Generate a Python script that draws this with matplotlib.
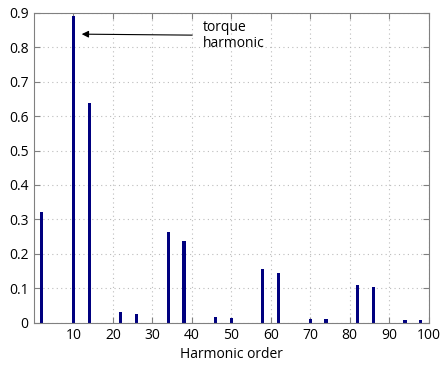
import matplotlib
matplotlib.use("Agg")
import matplotlib.pyplot as plt

# harmonic orders and amplitudes
orders = [2, 10, 14, 22, 26, 34, 38, 46, 50, 58, 62, 70, 74, 82, 86, 94, 98]
amps = [0.32, 0.892, 0.638, 0.030, 0.026, 0.262, 0.236, 0.016, 0.014,
        0.155, 0.145, 0.011, 0.010, 0.109, 0.104, 0.008, 0.008]
xticks = [10, 20, 30, 40, 50, 60, 70, 80, 90, 100]
yticks = [0, 0.1, 0.2, 0.3, 0.4, 0.5, 0.6, 0.7, 0.8, 0.9]

plt.rcParams['font.family'] = ['Open Sans', 'DejaVu Sans']
plt.rcParams['font.size'] = 10

fig = plt.figure(figsize=(4.41, 3.65), dpi=100)
ax = fig.add_axes([0.077, 0.116, 0.895, 0.849])

ax.bar(orders, amps, width=0.8, color='#00007f')

ax.set_xlim(0, 100)
ax.set_ylim(0, 0.9)
ax.set_xticks(xticks)
ax.set_yticks(yticks)
ax.set_yticklabels(['0' if v == 0 else '%g' % v for v in yticks])
ax.grid(True, linestyle=(0, (1, 3)), color='#bcbcbc', linewidth=0.8)
ax.set_axisbelow(True)
ax.tick_params(direction='in', top=True, right=True, length=4, color='#808080', pad=4)
for s in ax.spines.values():
    s.set_color('#808080')
    s.set_linewidth(0.8)

ax.set_xlabel('Harmonic order', labelpad=3)

ax.annotate('', xy=(11.4, 0.838), xytext=(40.8, 0.835),
            arrowprops=dict(arrowstyle='-|>', color='black', lw=0.8,
                            mutation_scale=10))
ax.text(42.8, 0.833, 'torque\nharmonic', ha='left', va='center', linespacing=1.1)

fig.savefig('out.png', dpi=100)
